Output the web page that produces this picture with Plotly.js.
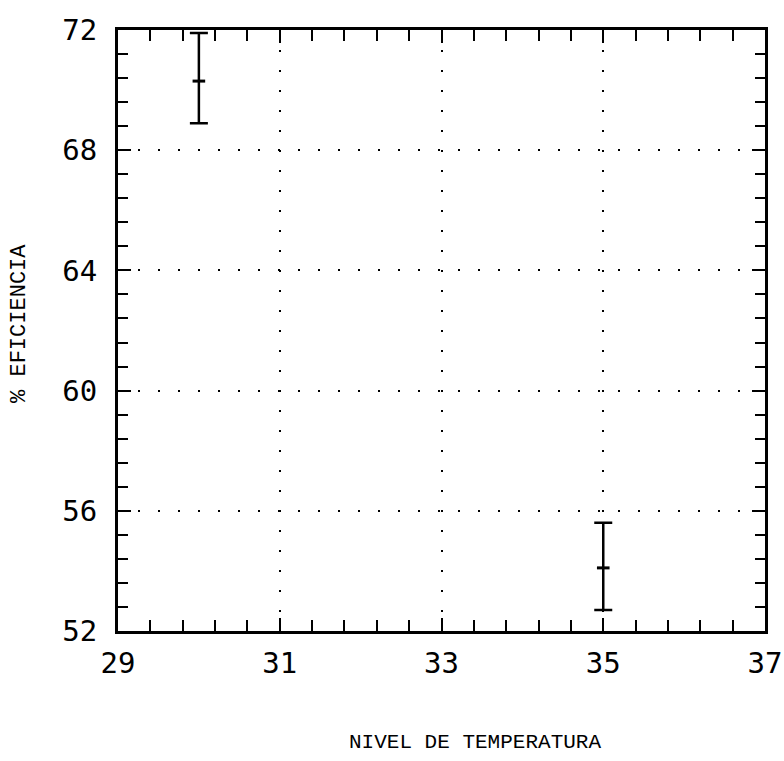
<!DOCTYPE html>
<html>
<head>
<meta charset="utf-8">
<script src="https://cdn.plot.ly/plotly-3.0.1.min.js"></script>
<style>html,body{margin:0;padding:0;background:#fff;}</style>
</head>
<body>
<div id="chart" style="width:784px;height:761px;"></div>
<script>
const temperatura = [30, 35];
const eficiencia = [70.3, 54.1];
const errorArriba = [1.6, 1.5];
const errorAbajo = [1.4, 1.4];
const xTicks = [29, 31, 33, 35, 37];
const yTicks = [52, 56, 60, 64, 68, 72];
const tituloX = 'NIVEL DE TEMPERATURA';
const tituloY = '% EFICIENCIA';

const trace = {
  x: temperatura,
  y: eficiencia,
  type: 'scatter',
  mode: 'markers',
  marker: {color: '#000', size: 9, symbol: 'line-ew', line: {color: '#000', width: 3}},
  error_y: {type: 'data', symmetric: false, array: errorArriba, arrayminus: errorAbajo,
            color: '#000', thickness: 2.5, width: 9},
  cliponaxis: false,
  showlegend: false
};

const tickFont = {family: 'DejaVu Sans Mono, monospace', size: 29, color: '#000'};
const layout = {
  width: 784, height: 761,
  margin: {l: 118, r: 19, t: 30, b: 130},
  paper_bgcolor: '#fff', plot_bgcolor: '#fff',
  xaxis: {
    range: [29, 37], tickvals: xTicks, ticktext: xTicks.map(String),
    ticks: 'inside', ticklen: 13, tickwidth: 2, tickcolor: '#000',
    minor: {dtick: 0.4, tick0: 29, ticks: 'inside', ticklen: 11, tickwidth: 2, tickcolor: '#000', showgrid: false},
    showline: true, linewidth: 3, linecolor: '#000', mirror: 'ticks',
    showgrid: true, gridcolor: '#000', gridwidth: 2, griddash: '2px,18px',
    zeroline: false, tickfont: tickFont, ticklabelstandoff: 4
  },
  yaxis: {
    range: [52, 72], tickvals: yTicks, ticktext: yTicks.map(String),
    ticks: 'inside', ticklen: 13, tickwidth: 2, tickcolor: '#000',
    minor: {dtick: 0.8, tick0: 52, ticks: 'inside', ticklen: 10, tickwidth: 2, tickcolor: '#000', showgrid: false},
    showline: true, linewidth: 3, linecolor: '#000', mirror: 'ticks',
    showgrid: true, gridcolor: '#000', gridwidth: 2, griddash: '2px,18px',
    zeroline: false, tickfont: tickFont, ticklabelstandoff: 12
  },
  annotations: [
    {text: tituloX, xref: 'paper', yref: 'paper', x: 0.552, y: -0.185, xanchor: 'center', yanchor: 'middle',
     showarrow: false, font: {family: 'Liberation Mono, monospace', size: 21, color: '#000'}},
    {text: tituloY, xref: 'paper', yref: 'paper', x: -0.152, y: 0.512, xanchor: 'center', yanchor: 'middle',
     textangle: -90, showarrow: false, font: {family: 'Liberation Mono, monospace', size: 22, color: '#000'}}
  ]
};
Plotly.newPlot('chart', [trace], layout, {staticPlot: true, displayModeBar: false});
</script>
</body>
</html>
